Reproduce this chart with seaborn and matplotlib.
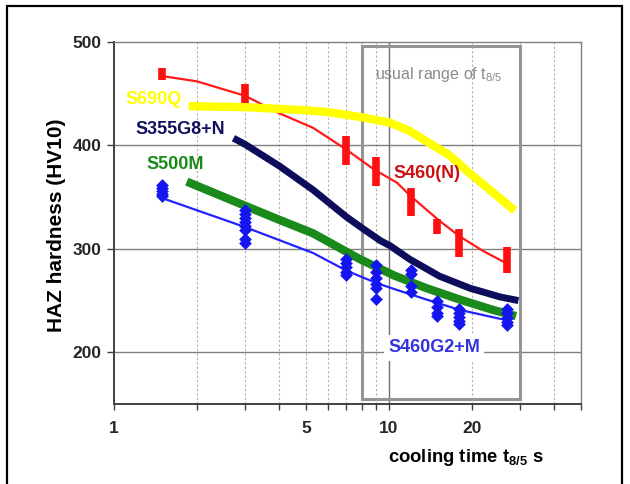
import matplotlib
matplotlib.use("Agg")
import matplotlib.pyplot as plt
from matplotlib.patches import Rectangle
import seaborn as sns

# ---------------- data ----------------
red_x = [1.5, 3, 7, 9, 12, 15, 18, 27]
red_lo = [463, 440, 381, 361, 332, 314, 292, 277]
red_hi = [475, 459, 409, 389, 359, 329, 319, 302]
red_fit_x = [1.5, 2, 3, 4, 5.3, 7, 8.8, 10.7, 12, 15.3, 18.1, 22, 26.8]
red_fit_y = [467, 462, 448, 431, 417, 396, 377, 364, 351, 327, 312, 298, 286]

yel_x = [1.87, 3, 5, 6.1, 8.07, 10.1, 11.9, 14.1, 16.7, 19.7, 23.3, 28.7]
yel_y = [438, 437, 434, 432, 427, 422, 414, 402, 390, 373, 357, 337]

nav_x = [2.72, 3, 4, 5.3, 7, 8, 9.3, 10.1, 11.9, 15.3, 19.7, 25.4, 29.6]
nav_y = [407, 401, 380, 357, 331, 320, 308, 303, 290, 273.5, 262, 253.5, 250]

grn_x = [1.84, 3.04, 4, 5.3, 7.85, 10.5, 13.7, 18.1, 23.9, 29]
grn_y = [365, 341, 328, 315, 290, 274, 262, 251, 241, 235]

blu_x = [1.5, 3, 5.3, 7, 9, 10.5, 13.7, 18.1, 26.8]
blu_y = [349, 321, 296, 279, 267, 261, 251, 241, 231]

blu_pts_x = ([1.5] * 5 + [3] * 8 + [7] * 5 + [9] * 6 + [12] * 4 + [15] * 4
             + [18] * 5 + [27] * 5)
blu_pts_y = [362, 359, 356, 353, 351,
             338, 334, 330, 326, 322, 318, 310, 306,
             290, 286, 282, 278, 275,
             284, 278, 272, 266, 262, 252,
             280, 276, 264, 258,
             250, 244, 238, 235,
             242, 238, 234, 230, 227,
             242, 238, 233, 229, 226]

x_labels = {1: "1", 5: "5", 10: "10", 20: "20"}
y_ticks = [200, 300, 400, 500]
range_x = [8, 30]
range_y = [155, 496]

# ---------------- style ----------------
sns.set_theme(style="white")
plt.rcParams["font.family"] = ["Liberation Sans", "DejaVu Sans"]
plt.rcParams["mathtext.default"] = "regular"

W, H = 630, 484
fig = plt.figure(figsize=(W / 100, H / 100), dpi=100)
fig.patch.set_facecolor("white")
L, R, T, B = 114, 581, 42, 404
ax = fig.add_axes([L / W, 1 - B / H, (R - L) / W, (B - T) / H])
ax.set_xscale("log")
ax.set_xlim(1, 50)
ax.set_ylim(150, 500)

# grid
for xv in [2, 3, 4, 5, 6, 7, 8, 9, 20, 30, 40]:
    ax.axvline(xv, color="#b0b0b0", lw=0.8, ls=(0, (2, 2)), zorder=0)
ax.axvline(10, color="#707070", lw=1.0, zorder=0)
for yv in [200, 300, 400]:
    ax.axhline(yv, color="#808080", lw=1.0, zorder=0)

# usual range box
ax.add_patch(Rectangle((range_x[0], range_y[0]), range_x[1] - range_x[0],
                       range_y[1] - range_y[0], fill=False,
                       edgecolor="#959595", lw=2.2, zorder=1))

# red series
sns.lineplot(x=red_fit_x, y=red_fit_y, ax=ax, color="#ff1a1a", lw=1.6,
             sort=False, estimator=None, zorder=2)
ax.vlines(red_x, red_lo, red_hi, color="#ff1010", lw=5.5, zorder=3)

# yellow
sns.lineplot(x=yel_x, y=yel_y, ax=ax, color="#ffff00", lw=6.0,
             sort=False, estimator=None, zorder=4, solid_capstyle="butt")
# navy
sns.lineplot(x=nav_x, y=nav_y, ax=ax, color="#0d0d5c", lw=5.0,
             sort=False, estimator=None, zorder=4, solid_capstyle="butt")
# green
sns.lineplot(x=grn_x, y=grn_y, ax=ax, color="#1a8a1a", lw=6.0,
             sort=False, estimator=None, zorder=4, solid_capstyle="butt")
# blue
sns.lineplot(x=blu_x, y=blu_y, ax=ax, color="#2222ff", lw=1.6,
             sort=False, estimator=None, zorder=5)
sns.scatterplot(x=blu_pts_x, y=blu_pts_y, ax=ax, marker="D", s=42,
                color="#1515f0", linewidth=0, zorder=6)

# ticks
xt = [1, 2, 3, 4, 5, 6, 7, 8, 9, 10, 20, 30, 40, 50]
ax.set_xticks(xt)
ax.set_xticklabels([x_labels.get(v, "") for v in xt])
ax.minorticks_off()
ax.set_yticks(y_ticks)
ax.set_yticklabels([str(v) for v in y_ticks])
ax.tick_params(axis="x", direction="out", length=4, width=1, color="#404040",
               pad=8, labelsize=12.5, bottom=True)
ax.tick_params(axis="y", direction="out", length=5, width=1, color="#404040",
               pad=4, labelsize=12.5, left=True)
for lab in ax.get_xticklabels() + ax.get_yticklabels():
    lab.set_fontweight("bold")

for s in ["left", "bottom"]:
    ax.spines[s].set_color("#404040")
    ax.spines[s].set_linewidth(1.4)
for s in ["top", "right"]:
    ax.spines[s].set_color("#808080")
    ax.spines[s].set_linewidth(1.0)
ax.set_xlabel("")
ax.set_ylabel("")


def ftext(px, py, s, **kw):
    return fig.text(px / W, 1 - py / H, s, **kw)


ftext(125, 100, "S690Q", color="#ffff00", fontsize=13, fontweight="bold", va="center")
ftext(135, 130, "S355G8+N", color="#10105e", fontsize=13, fontweight="bold", va="center")
ftext(146, 165, "S500M", color="#1a8a1a", fontsize=13, fontweight="bold", va="center")
ftext(393, 173, "S460(N)", color="#cc1010", fontsize=13, fontweight="bold", va="center")
ftext(388, 348, "S460G2+M", color="#3333dd", fontsize=13, fontweight="bold", va="center",
      bbox=dict(facecolor="white", edgecolor="none", pad=3))
ftext(375, 74, r"usual range of t$_{8/5}$", color="#8a8a8a", fontsize=11.5, va="center")
ftext(388, 457, r"cooling time t$_{8/5}$ s", color="black", fontsize=13.3,
      fontweight="bold", va="center")
ftext(56, 225, "HAZ hardness (HV10)", color="black", fontsize=15, fontweight="bold",
      va="center", ha="center", rotation=90)

# outer frame
fig.patches.append(Rectangle((7 / W, -0.1), (622 - 7) / W, 1.1 - 6 / H,
                             transform=fig.transFigure, fill=False,
                             edgecolor="black", lw=1.6))

fig.savefig("out.png", dpi=100)
